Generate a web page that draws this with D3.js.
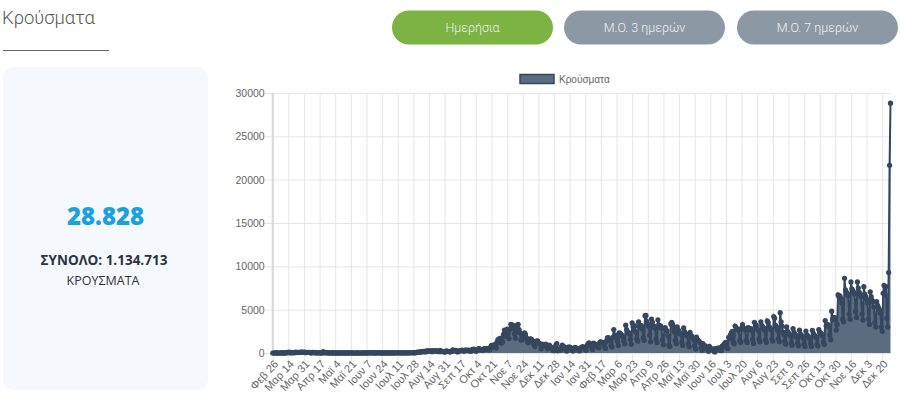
<!DOCTYPE html>
<html>
<head>
<meta charset="utf-8">
<script src="https://cdn.jsdelivr.net/npm/d3@7"></script>
<style>
  body { margin: 0; background: #fff; }
  svg { display: block; }
</style>
</head>
<body>
<div id="chart"></div>
<script>
// daily cases, one array per month (Feb 26 2020 - Dec 29 2021)
const c2020_02 = [1, 2, 0, 3];
const c2020_03 = [3,0,0,2,22,14,4,13,11,14,10,18,73,38,103,21,35,31,46,31,35,94,71,48,78,71,74,95,95,56,102];
const c2020_04 = [99,31,55,62,60,62,25,19,17,71,30,50,14,23,29,25,22,16,11,12,156,16,17,55,15,11,12,14,15,16];
const c2020_05 = [8,3,13,11,2,9,12,10,9,4,2,11,16,13,10,7,2,3,6,19,7,16,10,2,2,1,3,13,13,1,0];
const c2020_06 = [1,6,7,21,0,3,5,6,10,21,15,20,35,7,6,5,9,8,15,55,5,4,10,13,5,15,7,19,11,14];
const c2020_07 = [19,14,9,22,5,24,12,15,12,26,22,18,21,19,6,28,16,11,25,16,20,24,25,22,28,30,31,43,33,25,35];
const c2020_08 = [110,75,57,121,124,153,150,203,151,126,262,170,262,230,254,217,150,269,168,239,228,284,181,153,204,293,157,182,186,162,87];
const c2020_09 = [174,243,199,199,165,112,190,189,372,262,229,314,240,127,226,243,259,271,340,251,218,232,359,263,303,327,218,242,200,416];
const c2020_10 = [337,460,309,200,252,341,500,470,415,342,311,317,508,447,438,508,460,484,349,667,882,673,882,935,935,587,1259,1547,1211,1690,1690];
const c2020_11 = [1150,1300,2166,2646,1980,1913,2752,2331,1664,2752,3316,2917,3209,2838,2198,1695,2448,3209,3316,2695,2311,1498,1534,2057,2179,2315,2144,1736,1311,1193];
const c2020_12 = [1504,1625,1602,1531,1383,1043,746,1193,1382,1395,1213,1109,1008,470,1017,851,912,872,1017,712,484,722,907,723,686,451,290,262,601,922,1074];
const c2021_01 = [262,450,418,318,706,921,737,706,640,368,219,640,690,679,628,531,258,249,586,633,594,492,515,264,257,568,673,711,700,542,410];
const c2021_02 = [307,868,1069,1171,1083,963,600,415,1155,1053,953,848,1006,645,601,1262,1298,1182,1082,1236,808,526,1364,1751,1779,1539,1444,889];
const c2021_03 = [702,1798,2702,1993,2061,1886,1362,854,2326,2263,2147,2008,1850,1382,1045,3215,2702,2319,2396,2226,1564,1011,3465,3059,2700,3135,2419,1650,1362,3586,3019];
const c2021_04 = [3089,3154,2776,1780,1459,4309,4340,3647,3329,3089,2036,1287,3910,3563,3052,3100,2842,1608,1206,3833,3257,2999,3124,2843,1487,939,2855,2917,2599,2554];
const c2021_05 = [2000,905,750,3350,3545,3320,2936,2441,1468,1066,3013,2680,2522,2207,2224,1216,876,2893,2480,2237,2044,2123,1066,716,2385,2000,1917,1753,1526,828,456];
const c2021_06 = [1826,1553,1434,1327,1170,608,325,1093,854,863,759,631,421,204,768,546,479,467,454,205,128,538,488,527,574,601,313,283,812,727];
const c2021_07 = [1039,1180,1226,619,522,1811,1664,2113,2367,2501,1227,1058,3109,2914,2796,2688,2629,1452,1249,2879,3273,2908,2844,2653,1449,1218,2923,2877,2813,2826,2598];
const c2021_08 = [1556,1109,3541,3089,3207,2845,2613,1593,1287,3600,3194,3017,2902,2634,1526,1234,3700,3500,3050,2890,2664,1601,1374,4200,4000,3198,3012,2645,1674,1306,4650];
const c2021_09 = [3600,3100,2409,2130,1355,1016,3007,2512,2316,2137,1981,1143,896,2828,2396,2170,2024,1807,1131,825,2631,2217,1997,1989,1716,1005,760,2534,2105,1966];
const c2021_10 = [1852,1687,1136,753,2625,2264,2106,1963,1801,1011,807,2703,2377,2288,2213,1976,1300,1006,3739,3131,3223,3284,3050,2085,1540,4826,3860,4123,4073,4028,2640];
const c2021_11 = [3300,6700,6500,6600,6300,5800,3900,3600,8613,7300,7000,6900,6600,4500,3900,8200,7400,7200,7000,6800,4800,4100,8200,7500,7000,6800,6500,4500,3800,7650];
const c2021_12 = [6800,6500,6200,5800,3900,3300,7070,6500,6100,5900,5300,3500,3000,5920,5500,5200,5000,4600,3000,2500,6880,7800,6700,7666,4000,3000,9284,21657,28828];

const monthNames = ["Ιαν","Φεβ","Μαρ","Απρ","Μαϊ","Ιουν","Ιουλ","Αυγ","Σεπ","Οκτ","Νοε","Δεκ"];
const startDate = new Date(2020, 1, 26);
const labelStep = 17;
const yTicks = [0, 5000, 10000, 15000, 20000, 25000, 30000];
const seriesName = "Κρούσματα";
const buttonLabels = ["Ημερήσια", "Μ.Ο. 3 ημερών", "Μ.Ο. 7 ημερών"];
const todayText = "28.828";
const totalText = "ΣΥΝΟΛΟ: 1.134.713";

const cases = [].concat(c2020_02, c2020_03, c2020_04, c2020_05, c2020_06, c2020_07,
  c2020_08, c2020_09, c2020_10, c2020_11, c2020_12, c2021_01, c2021_02, c2021_03,
  c2021_04, c2021_05, c2021_06, c2021_07, c2021_08, c2021_09, c2021_10, c2021_11, c2021_12);
const dates = cases.map((d, i) => d3.timeDay.offset(startDate, i));

const W = 900, H = 398;
const svg = d3.select("#chart").append("svg")
  .attr("width", W).attr("height", H);

// ---- header
svg.append("text")
  .attr("x", 2).attr("y", 24)
  .style("font-family", "Roboto, sans-serif")
  .style("font-weight", 300)
  .style("font-size", "18.5px")
  .style("fill", "#555")
  .text("Κρούσματα");
svg.append("line")
  .attr("x1", 3).attr("x2", 109).attr("y1", 50.5).attr("y2", 50.5)
  .attr("stroke", "#666").attr("stroke-width", 1);

const btnX = [392, 564, 737];
const btn = svg.selectAll(".btn").data(buttonLabels).enter().append("g")
  .attr("class", "btn")
  .attr("transform", (d, i) => `translate(${btnX[i]},10.5)`);
btn.append("rect")
  .attr("width", 161).attr("height", 34).attr("rx", 17)
  .attr("fill", (d, i) => i == 0 ? "#7cb342" : "#8d98a5");
btn.append("text")
  .attr("x", 80.5).attr("y", 17).attr("dy", "0.35em")
  .attr("text-anchor", "middle")
  .style("font-family", "Roboto, sans-serif")
  .style("font-weight", 300)
  .style("font-size", "12.5px")
  .style("fill", "#eef1f4")
  .text(d => d);

// ---- left card
svg.append("rect")
  .attr("x", 3).attr("y", 67).attr("width", 205).attr("height", 323).attr("rx", 10)
  .attr("fill", "#f5f8fc");
svg.append("text")
  .attr("x", 105.5).attr("y", 225).attr("text-anchor", "middle")
  .style("font-family", "'Open Sans', sans-serif").style("font-weight", 800)
  .style("font-size", "24px").style("fill", "#1ba1e2")
  .text(todayText);
svg.append("text")
  .attr("x", 104).attr("y", 265).attr("text-anchor", "middle")
  .style("font-family", "'Open Sans', sans-serif").style("font-weight", 700)
  .style("font-size", "13.5px").style("fill", "#2c3440")
  .text(totalText);
svg.append("text")
  .attr("x", 103).attr("y", 285).attr("text-anchor", "middle")
  .style("font-family", "'Open Sans', sans-serif")
  .style("font-size", "12.5px").style("fill", "#333")
  .text("ΚΡΟΥΣΜΑΤΑ");

// ---- chart
const plotLeft = 272.7, plotRight = 890.5, plotTop = 93, plotBottom = 353;
const x = d3.scaleLinear().domain([0, cases.length - 1]).range([plotLeft, plotRight]);
const y = d3.scaleLinear().domain([0, 30000]).range([plotBottom, plotTop]);
const labelIdx = d3.range(0, cases.length, labelStep);
const fmt = d => monthNames[d.getMonth()] + " " + d.getDate();

const grid = svg.append("g");
grid.selectAll(".vg").data(labelIdx).enter().append("line")
  .attr("x1", d => x(d) + 0.5).attr("x2", d => x(d) + 0.5)
  .attr("y1", plotTop).attr("y2", plotBottom + 8)
  .attr("stroke", "#e6e6e6");
grid.selectAll(".hg").data(yTicks).enter().append("line")
  .attr("x1", plotLeft - 8).attr("x2", plotRight)
  .attr("y1", d => y(d) + 0.5).attr("y2", d => y(d) + 0.5)
  .attr("stroke", "#e6e6e6");
grid.append("line")
  .attr("x1", plotLeft).attr("x2", plotLeft).attr("y1", plotTop).attr("y2", plotBottom)
  .attr("stroke", "#d9d9d9").attr("stroke-width", 2);

const yAxis = d3.axisLeft(y).tickValues(yTicks).tickFormat(d3.format("d")).tickSize(0).tickPadding(8);
svg.append("g")
  .attr("transform", `translate(${plotLeft},0)`)
  .call(yAxis)
  .call(g => g.select(".domain").remove())
  .selectAll("text")
  .style("font-family", "'Liberation Sans', Arial, sans-serif")
  .style("font-size", "10.5px").style("fill", "#666");

const xAxis = d3.axisBottom(x).tickValues(labelIdx).tickFormat(i => fmt(dates[i])).tickSize(0);
svg.append("g")
  .attr("transform", `translate(0,${plotBottom})`)
  .call(xAxis)
  .call(g => g.select(".domain").remove())
  .selectAll("text")
  .attr("x", 0).attr("y", 0).attr("dy", "0.35em")
  .attr("transform", "translate(3,9) rotate(-47)")
  .style("text-anchor", "end")
  .style("font-family", "'Liberation Sans', Arial, sans-serif")
  .style("font-size", "11px").style("fill", "#666");

const area = d3.area()
  .x((d, i) => x(i)).y0(y(0)).y1(d => y(d));
const line = d3.line()
  .x((d, i) => x(i)).y(d => y(d));

svg.append("path").datum(cases)
  .attr("d", area).attr("fill", "#5b6b80");
svg.append("path").datum(cases)
  .attr("d", line).attr("fill", "none")
  .attr("stroke", "#34475e").attr("stroke-width", 2);
svg.append("g").selectAll("circle").data(cases).enter().append("circle")
  .attr("cx", (d, i) => x(i)).attr("cy", d => y(d)).attr("r", 2.6)
  .attr("fill", "#34475e");

// ---- legend
svg.append("rect")
  .attr("x", 520).attr("y", 74.5).attr("width", 34).attr("height", 9)
  .attr("fill", "#5b6b80").attr("stroke", "#34475e").attr("stroke-width", 1.5);
svg.append("text")
  .attr("x", 559).attr("y", 79).attr("dy", "0.35em")
  .style("font-family", "'Liberation Sans', Arial, sans-serif")
  .style("font-size", "10px").style("fill", "#666")
  .text(seriesName);
</script>
</body>
</html>
